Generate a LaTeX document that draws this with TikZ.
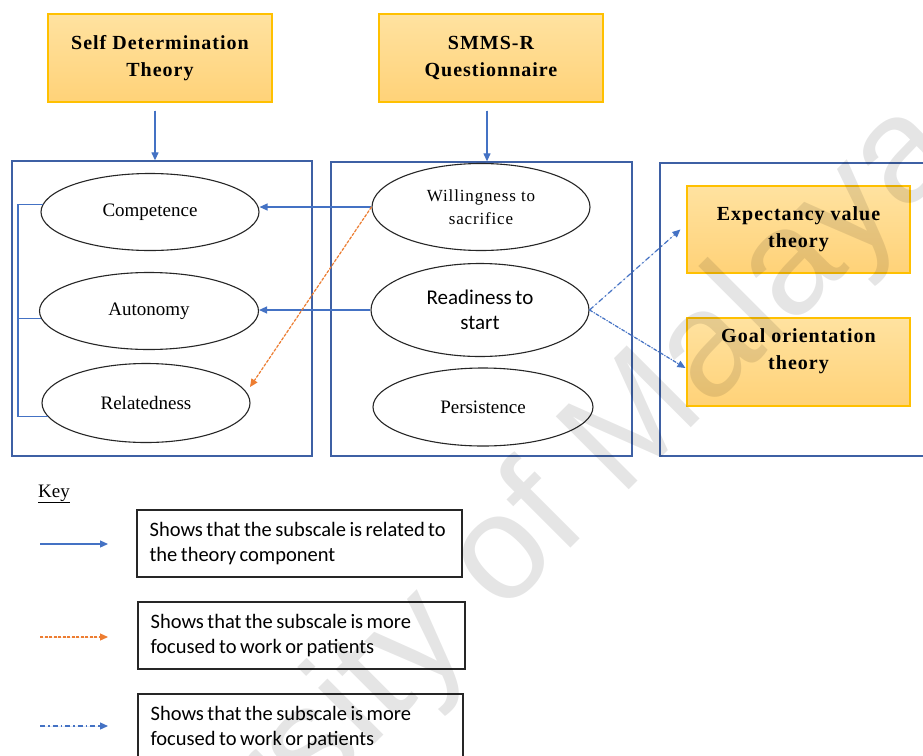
\documentclass[tikz,border=0pt]{standalone}
\usepackage{fontspec}
\setmainfont{Liberation Serif}
\newfontfamily\titlefont[LetterSpace=5]{Liberation Serif}
\newfontfamily\calfont[WordSpace=0.75]{Carlito}
\newfontfamily\markfont{Liberation Sans}
\usetikzlibrary{arrows.meta,shapes.geometric,calc}

\definecolor{linkblue}{RGB}{68,114,196}
\definecolor{frameblue}{RGB}{62,96,164}
\definecolor{boxedge}{RGB}{255,192,0}
\definecolor{boxtop}{RGB}{255,226,160}
\definecolor{boxbottom}{RGB}{255,210,120}
\definecolor{focusorange}{RGB}{237,125,49}

\begin{document}
\begin{tikzpicture}[x=1pt,y=-1pt,
  theory/.style={draw=boxedge, line width=1.2pt, top color=boxtop, bottom color=boxbottom,
    inner sep=0pt, align=center, font=\titlefont\bfseries\fontsize{20}{27}\selectfont},
  container/.style={draw=frameblue, line width=1.3pt, inner sep=0pt},
  oval/.style={ellipse, draw=black!85, line width=1.1pt, inner sep=0pt, align=center,
    font=\fontsize{19}{23}\selectfont},
  keybox/.style={draw=black!85, line width=1.2pt, inner sep=0pt, minimum height=67pt},
  keytext/.style={anchor=west, align=left, inner sep=0pt, font=\calfont\fontsize{20.5}{25}\selectfont},
  tip/.style={-{Triangle[length=8pt,width=7pt]}},
  linkarrow/.style={tip, draw=linkblue, fill=linkblue, line width=1.2pt},
  linkline/.style={draw=linkblue, line width=1.2pt},
  focusarrow/.style={tip, draw=focusorange, fill=focusorange, line width=1.2pt,
    dash pattern=on 3pt off 1.5pt},
  workarrow/.style={tip, draw=linkblue, fill=linkblue, line width=1.2pt,
    dash pattern=on 5pt off 3pt on 1.5pt off 3pt},
  workarrowdense/.style={tip, draw=linkblue, fill=linkblue, line width=1.2pt,
    dash pattern=on 3.5pt off 1.5pt on 1pt off 1.5pt}
]
\clip (0,0) rectangle (923,755);
\fill[white] (0,0) rectangle (923,755);

% source boxes
\node[theory, minimum width=224pt, minimum height=88pt] (sdt) at (160,58)
  {Self Determination\\Theory};
\node[theory, minimum width=224pt, minimum height=88pt] (smms) at (491,58)
  {SMMS-R\\Questionnaire};

% three containers
\node[container, minimum width=300pt, minimum height=295pt] (leftframe) at (162,308.5) {};
\node[container, minimum width=301pt, minimum height=294pt] (midframe) at (481.5,309) {};
\node[container, minimum width=290pt, minimum height=293pt] (rightframe) at (805,309.5) {};

% theory components
\node[oval, minimum width=218pt, minimum height=77pt] (comp) at (150,212) {Competence};
\node[oval, minimum width=219pt, minimum height=77pt] (auto) at (149,311) {Autonomy};
\node[oval, minimum width=208pt, minimum height=79pt] (rel) at (146,403) {Relatedness};

% subscales
\node[oval, minimum width=218pt, minimum height=87pt, font=\titlefont\fontsize{17}{23}\selectfont]
  (will) at (481,207) {Willingness to\\sacrifice};
\node[oval, minimum width=218pt, minimum height=93pt, font=\calfont\fontsize{21}{25}\selectfont]
  (ready) at (480,310) {Readiness to\\start};
\node[oval, minimum width=220pt, minimum height=78pt] (pers) at (483,407) {Persistence};

% related theories
\node[theory, minimum width=223pt, minimum height=87pt] (exp) at (798.5,229.5)
  {Expectancy value\\theory};
\node[theory, minimum width=223pt, minimum height=88pt] (goal) at (798.5,362) {};
\node[align=center, inner sep=0pt, font=\titlefont\bfseries\fontsize{20}{27}\selectfont]
  (goaltext) at ($(goal.center)+(0,-11)$) {Goal orientation\\theory};

% arrows from the source boxes
\draw[linkarrow] ([xshift=-5pt,yshift=-8pt]sdt.south) -- ([xshift=-5pt]sdt.south |- leftframe.north);
\draw[linkarrow] ([xshift=-4pt,yshift=-8pt]smms.south) -- ([xshift=-4pt]smms.south |- midframe.north);

% bracket joining the three components
\coordinate (brk) at (18,0);
\draw[linkline] (comp.176) -- (comp.176 -| brk) -- (rel.188 -| brk) -- (rel.188);
\draw[linkline] (auto.184) -- (auto.184 -| brk);

% subscale links
\draw[linkarrow] (will.west) -- (will.west -| comp.east);
\draw[linkarrow] (ready.west) -- (ready.west -| auto.east);
\coordinate (reltip) at (250,387);
\draw[focusarrow] (will.west) -- (reltip);
\draw[workarrow] (ready.east) -- ($(exp.west)+(-6,0)$);
\draw[workarrowdense] (ready.east) -- ($(goal.west)+(-1,6)$);

% key
\node[anchor=base west, inner sep=0pt, font=\fontsize{19}{22}\selectfont] (key) at (38,497) {\underline{Key}};

\node[keybox, minimum width=325pt] (k1) at (299.5,543.5) {};
\node[keytext] (k1text) at ($(k1.west)+(13,0)$) {Shows that the subscale is related to\\the theory component};
\node[keybox, minimum width=327pt] (k2) at (301.5,635.5) {};
\node[keytext] (k2text) at ($(k2.west)+(13,0)$) {Shows that the subscale is more\\focused to work or patients};
\node[keybox, minimum width=325pt] (k3) at (300.5,727.5) {};
\node[keytext] (k3text) at ($(k3.west)+(13,0)$) {Shows that the subscale is more\\focused to work or patients};

\coordinate (k1a) at (40,544);  \coordinate (k1b) at (108,544);
\coordinate (k2a) at (40,637);  \coordinate (k2b) at (108,637);
\coordinate (k3a) at (40,726);  \coordinate (k3b) at (108,726);
\draw[linkarrow] (k1a) -- (k1b);
\draw[focusarrow] (k2a) -- (k2b);
\draw[workarrow] (k3a) -- (k3b);

% watermark
\node[rotate=45, opacity=0.1, text=black, inner sep=0pt,
  font=\markfont\fontsize{150}{150}\selectfont] (mark) at (458,606) {University of Malaya};
\end{tikzpicture}
\end{document}
